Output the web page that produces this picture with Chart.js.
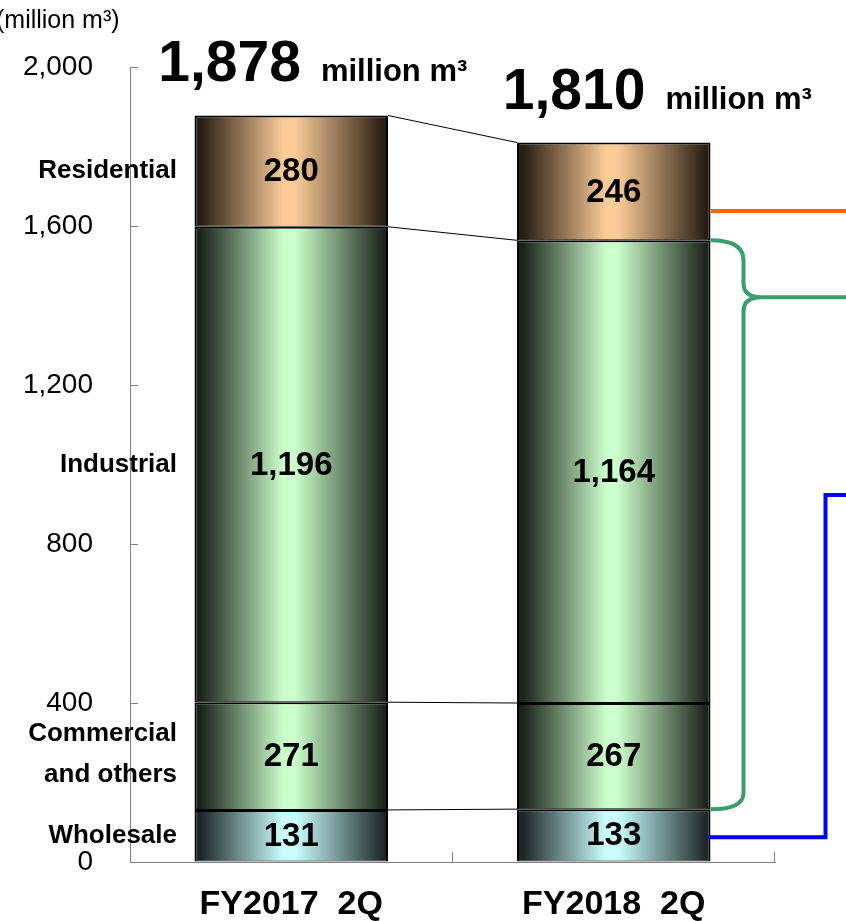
<!DOCTYPE html>
<html>
<head>
<meta charset="utf-8">
<script src="https://cdn.jsdelivr.net/npm/chart.js@4"></script>
<style>
  html, body { margin: 0; padding: 0; background: #fff; }
  #wrap { width: 846px; height: 921px; }
</style>
</head>
<body>
<div id="wrap"><canvas id="gas_chart" width="846" height="921"></canvas></div>
<script>
// values (million m3)
const categories = ['FY2017  2Q', 'FY2018  2Q'];
const wholesale = [131, 133];
const commercial = [271, 267];
const industrial = [1196, 1164];
const residential = [280, 246];
const segmentNames = ['Wholesale', ['Commercial', 'and others'], 'Industrial', 'Residential'];
const yTicks = [0, 400, 800, 1200, 1600, 2000];

const FONT = '"Liberation Sans", Arial, sans-serif';

// dark edge / light centre for each segment
function barFill(dark, light) {
  return function (ctx) {
    const chart = ctx.chart;
    const x = chart.scales.x;
    if (!x || !chart.chartArea) return light;
    const cx = x.getPixelForValue(ctx.dataIndex);
    const half = (x.width / categories.length) * 0.6 / 2;
    const g = chart.ctx.createLinearGradient(cx - half, 0, cx + half, 0);
    g.addColorStop(0, dark);
    g.addColorStop(0.03, dark);
    g.addColorStop(0.46, light);
    g.addColorStop(0.52, light);
    g.addColorStop(0.98, dark);
    g.addColorStop(1, dark);
    return g;
  };
}

function fmt(n) { return n.toLocaleString('en-US'); }

const extras = {
  id: 'extras',
  afterDatasetsDraw(chart) {
    const c = chart.ctx;
    const xs = chart.scales.x, ys = chart.scales.y;
    const area = chart.chartArea;
    const metas = chart.data.datasets.map((d, i) => chart.getDatasetMeta(i));
    c.save();

    // inward tick marks
    c.strokeStyle = '#808080';
    c.lineWidth = 1;
    ys.ticks.forEach(t => {
      const y = Math.round(ys.getPixelForValue(t.value)) + 0.5;
      c.beginPath(); c.moveTo(area.left, y); c.lineTo(area.left + 8, y); c.stroke();
    });
    for (let i = 1; i <= categories.length; i++) {
      const x = Math.round(area.left + (area.width / categories.length) * i) - 0.5;
      c.beginPath(); c.moveTo(x, area.bottom); c.lineTo(x, area.bottom - 10); c.stroke();
    }

    // thin connectors between bars
    c.strokeStyle = '#000';
    c.lineWidth = 1;
    metas.forEach(m => {
      const a = m.data[0], b = m.data[1];
      c.beginPath();
      c.moveTo(a.x + a.width / 2, a.y);
      c.lineTo(b.x - b.width / 2, b.y);
      c.stroke();
    });

    // values inside segments
    c.fillStyle = '#000';
    c.textAlign = 'center';
    c.textBaseline = 'middle';
    c.font = 'bold 33px ' + FONT;
    metas.forEach((m, di) => {
      m.data.forEach((el, i) => {
        const v = chart.data.datasets[di].data[i];
        c.fillText(fmt(v), el.x, (el.y + el.base) / 2 + 1);
      });
    });

    // segment names next to first bar
    c.textAlign = 'right';
    c.font = 'bold 26px ' + FONT;
    metas.forEach((m, di) => {
      const el = m.data[0];
      const cy = (el.y + el.base) / 2;
      const name = segmentNames[di];
      if (Array.isArray(name)) {
        c.fillText(name[0], 177, cy - 22);
        c.fillText(name[1], 177, cy + 19);
      } else {
        c.fillText(name, 177, cy);
      }
    });

    // totals above bars
    const offX = [-133, -111];
    const top = metas[metas.length - 1];
    c.textAlign = 'left';
    c.textBaseline = 'alphabetic';
    categories.forEach((cat, i) => {
      const total = wholesale[i] + commercial[i] + industrial[i] + residential[i];
      const el = top.data[i];
      const x0 = el.x + offX[i];
      const y0 = el.y - 34;
      c.font = 'bold 57px ' + FONT;
      c.fillText(fmt(total), x0, y0);
      const w = c.measureText(fmt(total)).width;
      c.font = 'bold 31px ' + FONT;
      c.fillText('million m\u00B3', x0 + w + 20, y0);
    });

    // unit label
    c.font = '25px ' + FONT;
    c.textBaseline = 'middle';
    c.fillText('(million m\u00B3)', -4, 21);

    // right-hand markers on the FY2018 bar
    const res = metas[3].data[1], ind = metas[2].data[1], com = metas[1].data[1], whs = metas[0].data[1];
    const R = res.x + res.width / 2;
    const W = chart.width;

    c.lineWidth = 4;
    c.strokeStyle = '#ff6600';
    const oy = res.base + (res.y - res.base) * 0.3;
    c.beginPath(); c.moveTo(R, oy); c.lineTo(W, oy); c.stroke();

    c.strokeStyle = '#3a9e6c';
    const bx = R + 33;
    const t = ind.y, bt = com.base, cusp = ind.y + 57;
    c.beginPath();
    c.moveTo(R, t);
    c.quadraticCurveTo(bx, t, bx, t + 20);
    c.lineTo(bx, cusp - 14);
    c.quadraticCurveTo(bx, cusp, bx + 18, cusp);
    c.lineTo(W, cusp);
    c.moveTo(bx + 18, cusp);
    c.quadraticCurveTo(bx, cusp, bx, cusp + 14);
    c.lineTo(bx, bt - 16);
    c.quadraticCurveTo(bx, bt, R, bt);
    c.stroke();

    c.strokeStyle = '#0000ff';
    const wy = (whs.y + whs.base) / 2 + 2;
    const vx = R + 115;
    const vy = ys.getPixelForValue(923);
    c.beginPath();
    c.moveTo(R - 2, wy);
    c.lineTo(vx, wy);
    c.lineTo(vx, vy);
    c.lineTo(W, vy);
    c.stroke();

    c.restore();
  }
};

const gas_chart = document.getElementById('gas_chart');

new Chart(gas_chart, {
  type: 'bar',
  data: {
    labels: categories,
    datasets: [
      {
        label: 'Wholesale',
        data: wholesale,
        backgroundColor: barFill('#1c2626', '#ccffff')
      },
      {
        label: 'Commercial and others',
        data: commercial,
        backgroundColor: barFill('#1a221a', '#ccffcc')
      },
      {
        label: 'Industrial',
        data: industrial,
        backgroundColor: barFill('#1a221a', '#ccffcc')
      },
      {
        label: 'Residential',
        data: residential,
        backgroundColor: barFill('#261c12', '#fccc98')
      }
    ]
  },
  options: {
    responsive: false,
    animation: false,
    events: [],
    datasets: {
      bar: {
        borderColor: '#000',
        borderWidth: { top: 2, bottom: 1, left: 2, right: 2 },
        borderSkipped: false,
        barPercentage: 1,
        categoryPercentage: 0.6
      }
    },
    layout: { padding: { top: 67, right: 71, left: 0, bottom: 0 } },
    plugins: {
      legend: { display: false },
      tooltip: { enabled: false }
    },
    scales: {
      x: {
        stacked: true,
        grid: { drawOnChartArea: false, drawTicks: false },
        border: { color: '#808080', width: 1 },
        ticks: {
          color: '#000',
          padding: 22,
          font: { family: FONT, size: 34, weight: 'bold' }
        },
        afterFit(scale) { scale.height = 59; }
      },
      y: {
        stacked: true,
        min: 0,
        max: 2000,
        grid: { drawOnChartArea: false, drawTicks: false },
        border: { color: '#808080', width: 1 },
        afterBuildTicks(scale) { scale.ticks = yTicks.map(v => ({ value: v })); },
        ticks: {
          color: '#000',
          padding: 37,
          font: { family: FONT, size: 28 },
          callback: v => fmt(v)
        },
        afterFit(scale) { scale.width = 130; }
      }
    }
  },
  plugins: [extras]
});
</script>
</body>
</html>
